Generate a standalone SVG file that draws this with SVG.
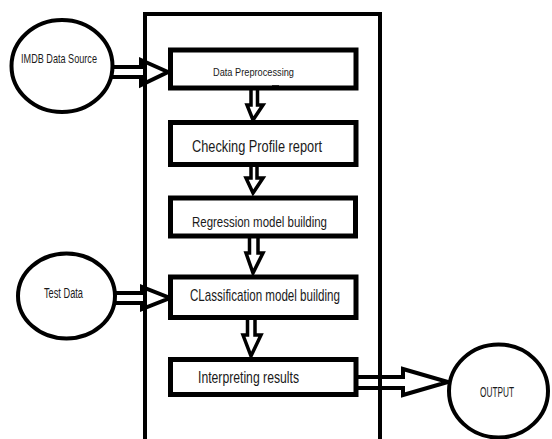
<svg xmlns="http://www.w3.org/2000/svg" width="552" height="439" viewBox="0 0 552 439">
<style>
.box{fill:#fff;stroke:#000;stroke-width:5}
.circ{fill:#fff;stroke:#000;stroke-width:4}
.frame{fill:none;stroke:#000;stroke-width:4}
.arr{fill:none;stroke:#000;stroke-width:4;stroke-linejoin:miter}
.varr{fill:none;stroke:#000;stroke-width:3.5;stroke-linejoin:miter}
text{font-family:"Liberation Sans",Arial,sans-serif;fill:#1a1a1a}
</style>
<rect width="552" height="439" fill="#fff"/>
<g id="connectors">
<path class="arr" d="M112,67 H141 V60 L168,72 L141,85 V77 H112"/>
<path class="arr" d="M115,293 H142 V287 L170,298 L142,309 V303 H115"/>
<path class="arr" d="M357,377 H403 V369 L448,382 L403,395 V388 H357"/>
<path class="varr" d="M251,89 V105 H247 L253,120 L263,105 H257.5 V89"/>
<path class="varr" d="M251,165 V178 H246 L253,193 L263,178 H257 V165"/>
<path class="varr" d="M249.5,238 V253 H246 L253,273 L263,253 H258 V238"/>
<path class="varr" d="M247.5,319 V335 H243 L251,356 L261,335 H255 V319"/>
</g>
<rect id="frame" class="frame" x="145" y="14" width="235" height="440"/>
<g id="n-preprocessing">
<rect class="box" x="170.5" y="50" width="185.5" height="38"/>
<text x="213" y="76" font-size="11.5" textLength="81" lengthAdjust="spacingAndGlyphs">Data Preprocessing</text>
<line x1="272" y1="86" x2="279" y2="86" stroke="#000" stroke-width="1.5"/>
</g>
<g id="n-profile">
<rect class="box" x="170.5" y="122.5" width="185.5" height="42"/>
<text x="192" y="152" font-size="16.5" textLength="130" lengthAdjust="spacingAndGlyphs">Checking Profile report</text>
</g>
<g id="n-regression">
<rect class="box" x="170.5" y="198" width="185" height="38"/>
<text x="192" y="227" font-size="15.5" textLength="135" lengthAdjust="spacingAndGlyphs">Regression model building</text>
</g>
<g id="n-classification">
<rect class="box" x="170.5" y="277" width="185.5" height="40.5"/>
<text x="190" y="301" font-size="17" textLength="150" lengthAdjust="spacingAndGlyphs">CLassification model building</text>
</g>
<g id="n-interpreting">
<rect class="box" x="170.5" y="359.5" width="185.5" height="35"/>
<text x="198" y="383" font-size="17" textLength="101" lengthAdjust="spacingAndGlyphs">Interpreting results</text>
</g>
<g id="n-imdb">
<ellipse class="circ" cx="62" cy="66" rx="50.5" ry="46"/>
<text x="21" y="63" font-size="13.5" textLength="76" lengthAdjust="spacingAndGlyphs">IMDB Data Source</text>
</g>
<g id="n-test">
<ellipse class="circ" cx="66.5" cy="296" rx="48.5" ry="42.5"/>
<text x="44" y="298" font-size="14" textLength="39" lengthAdjust="spacingAndGlyphs">Test Data</text>
</g>
<g id="n-output">
<ellipse class="circ" cx="498.5" cy="391" rx="49.5" ry="46.5"/>
<text x="480" y="397" font-size="14" textLength="34" lengthAdjust="spacingAndGlyphs">OUTPUT</text>
</g>
</svg>
